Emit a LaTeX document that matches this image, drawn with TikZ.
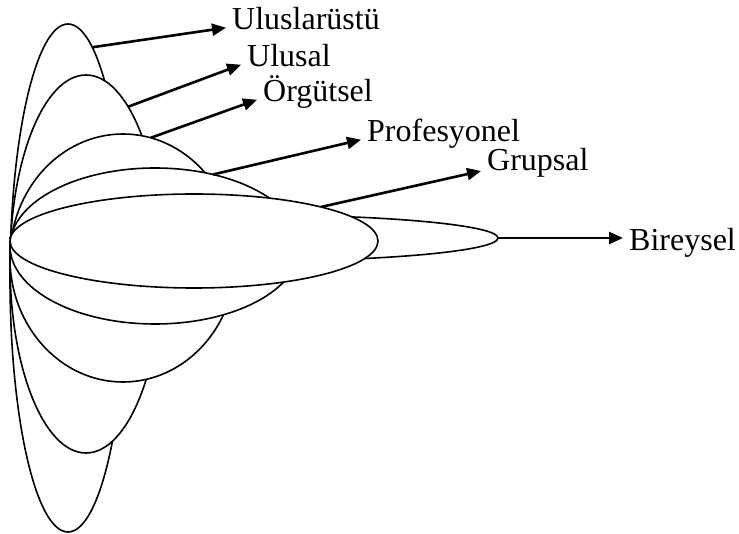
\documentclass[tikz,border=0pt]{standalone}
\usepackage{fontspec}
\setmainfont{Liberation Serif}
\usetikzlibrary{shapes.geometric, arrows.meta}

\begin{document}
\begin{tikzpicture}[
            x=1pt, y=-1pt,
            level/.style={draw=black, line width=1.6pt, fill=white, ellipse, inner sep=0pt, outer sep=0pt},
            edge/.style={line width=2.6pt, -{Triangle[length=14pt, width=12pt]}},
            levellabel/.style={font=\fontsize{32pt}{36pt}\selectfont, inner xsep=6pt, inner ysep=0pt, anchor=base west}
        ]
        \useasboundingbox (0,0) rectangle (739,534);

        % Ellipsen
        \node[level, minimum width=488pt, minimum height=46pt] (e6) at (254,238) {};
        \node[level, minimum width=116pt, minimum height=508pt] (e1) at (68,278) {};
        \node[level, minimum width=152pt, minimum height=378pt] (e2) at (86,264) {};
        \node[level, minimum width=226pt, minimum height=248pt] (e3) at (123,258) {};
        \node[level, minimum width=290pt, minimum height=156pt] (e4) at (155,246) {};
        \node[level, minimum width=368pt, minimum height=94pt] (e5) at (194,241) {};

        % Beschriftungen
        \node[levellabel] (t1) at (226,30) {Uluslarüstü};
        \node[levellabel] (t2) at (241,67) {Ulusal};
        \node[levellabel] (t3) at (257,102) {Örgütsel};
        \node[levellabel] (t4) at (361,142) {Profesyonel};
        \node[levellabel] (t5) at (481,171) {Grupsal};
        \node[levellabel] (t6) at (623,251) {Bireysel};

        % Pfeile
        \draw[edge] (e1.84.7) -- (t1.mid west);
        \draw[edge] (e2.75.8) -- (t2.mid west);
        \draw[edge] (e3.77.6) -- (t3.mid west);
        \draw[edge] (e4.51.6) -- (t4.mid west);
        \draw[edge] (e5.15.3) -- (t5.base west);
        \draw[edge] (e6.east) -- (e6.east -| t6.west);

    \end{tikzpicture}
\end{document}
